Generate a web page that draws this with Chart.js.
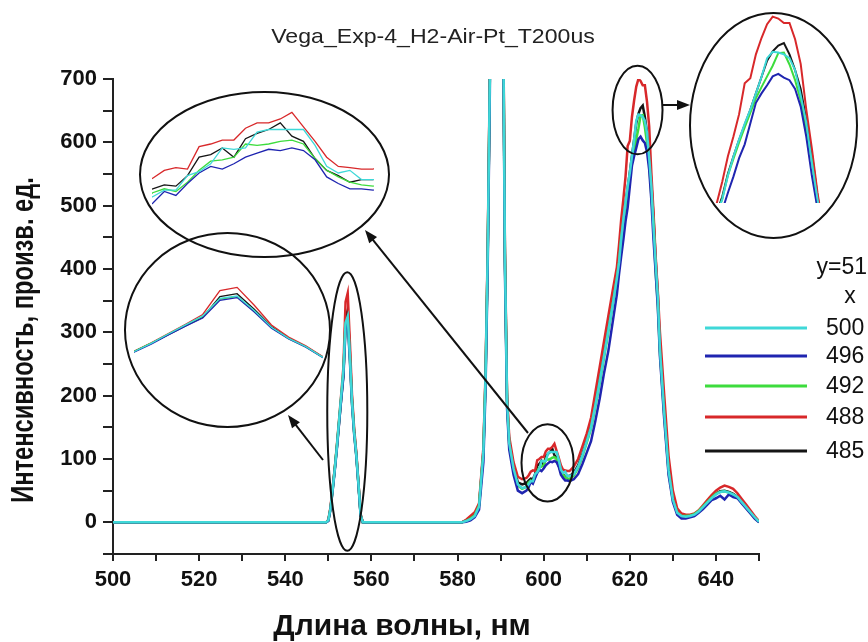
<!DOCTYPE html>
<html>
<head>
<meta charset="utf-8">
<script src="https://cdn.jsdelivr.net/npm/chart.js@4"></script>
<style>
  body { margin: 0; background: #fff; }
  #wrap { position: relative; width: 868px; height: 642px; }
  #wrap canvas { position: absolute; left: 0; top: 0; }
</style>
</head>
<body>
<div id="wrap">
  <canvas id="main" width="868" height="642"></canvas>
</div>
<script>
// wavelength grid (nm), finer where the insets zoom in
const wavelengths = [
  500, 549.5, 550, 550.5, 551, 551.5, 552, 552.5, 553, 553.5, 554, 554.5, 555, 555.5, 556, 556.5, 557, 557.5, 558,
  581, 582, 583, 584, 585, 586, 586.5, 587, 587.5, 588, 589, 590, 590.5, 591, 591.5, 592, 593, 594, 595, 596,
  596.5, 597, 597.5, 598, 598.5, 599, 599.5, 600, 600.5, 601, 601.5, 602, 602.5, 603, 603.5, 604, 604.5, 605, 605.5, 606,
  607, 608, 609, 610, 611, 612, 613, 614, 615, 616,
  617, 617.5, 618, 618.5, 619, 619.5, 620, 620.5, 621, 621.5, 622, 622.5, 623, 623.5, 624, 624.5, 625, 625.5, 626, 626.5,
  627, 628, 629, 630, 631, 632, 633, 634, 635, 636, 637, 638, 639, 640, 641, 642, 643, 644, 645, 646, 647, 648, 649, 650
];

const int500 = [
  0, 0, 3, 22, 52, 84, 120, 161, 200, 239, 315, 325, 262, 190, 142, 106, 60, 12, 0,
  0, 2, 5, 10, 25, 110, 226, 420, 700, 1300, 1900, 1400, 900, 420, 190, 125, 85, 60, 54, 56,
  60, 65, 65, 76, 79, 85, 97, 96, 97, 109, 111, 111, 111, 111, 99, 83, 78, 80, 73, 73,
  76, 88, 106, 128, 150, 185, 222, 262, 302, 342,
  385, 410, 447, 478, 505, 530, 552, 578, 604, 634, 644, 643, 640, 634, 615, 575, 532, 467, 410, 355,
  272, 172, 82, 36, 15, 10, 9, 10, 12, 17, 24, 31, 38, 44, 48, 49, 47, 44, 40, 32, 24, 16, 8, 1
];
const int496 = [
  0, 0, 2, 20, 50, 82, 117, 157, 195, 230, 306, 318, 256, 186, 139, 104, 58, 10, 0,
  0, 1, 3, 8, 20, 95, 210, 400, 680, 1250, 1850, 1350, 880, 400, 180, 115, 75, 50, 46, 50,
  55, 64, 61, 70, 78, 83, 81, 85, 90, 93, 96, 95, 97, 95, 88, 75, 70, 66, 66, 65,
  68, 76, 92, 110, 128, 160, 195, 235, 270, 315,
  360, 392, 420, 446, 475, 497, 530, 563, 578, 591, 605, 609, 603, 599, 585, 557, 509, 447, 395, 340,
  262, 162, 75, 32, 12, 6, 6, 8, 10, 15, 21, 28, 35, 38, 42, 36, 44, 40, 38, 30, 22, 14, 6, 0
];
const int492 = [
  0, 0, 3, 21, 51, 85, 121, 160, 199, 236, 312, 322, 260, 189, 141, 105, 59, 11, 0,
  0, 2, 6, 11, 26, 108, 222, 415, 695, 1280, 1880, 1380, 890, 415, 188, 122, 82, 58, 53, 56,
  63, 66, 64, 71, 80, 87, 88, 90, 100, 99, 100, 102, 103, 100, 89, 80, 75, 71, 69, 68,
  74, 86, 104, 126, 148, 183, 220, 260, 300, 342,
  385, 410, 448, 474, 500, 524, 547, 570, 588, 605, 622, 642, 643, 624, 599, 567, 516, 470, 395, 345,
  268, 168, 80, 35, 15, 10, 10, 11, 13, 18, 25, 32, 39, 45, 48, 49, 47, 44, 39, 31, 23, 15, 7, 1
];
const int488 = [
  0, 0, 4, 24, 55, 86, 123, 163, 203, 245, 348, 362, 285, 200, 148, 110, 62, 13, 0,
  0, 4, 10, 16, 30, 118, 235, 430, 710, 1320, 1920, 1420, 920, 435, 200, 135, 95, 72, 68, 70,
  74, 80, 82, 81, 98, 100, 103, 103, 112, 116, 116, 119, 124, 113, 102, 90, 83, 82, 81, 81,
  88, 100, 120, 140, 165, 205, 245, 285, 325, 365,
  403, 438, 478, 510, 545, 594, 602, 640, 666, 688, 700, 697, 690, 690, 664, 625, 552, 490, 420, 365,
  300, 200, 105, 50, 22, 14, 12, 12, 14, 19, 27, 35, 43, 50, 55, 58, 56, 53, 46, 37, 28, 19, 10, 2
];
const int485 = [
  0, 0, 3, 22, 53, 85, 120, 158, 196, 233, 322, 335, 268, 193, 143, 107, 61, 12, 0,
  0, 3, 7, 12, 27, 112, 228, 422, 702, 1300, 1900, 1400, 905, 425, 194, 128, 88, 63, 60, 62,
  66, 69, 68, 76, 90, 92, 97, 90, 104, 108, 111, 116, 106, 102, 89, 80, 76, 71, 73, 73,
  78, 90, 108, 130, 152, 188, 225, 265, 305, 345,
  388, 414, 450, 478, 504, 528, 552, 578, 604, 630, 645, 654, 658, 640, 615, 585, 536, 482, 415, 360,
  275, 175, 85, 38, 16, 10, 9, 10, 12, 17, 24, 31, 39, 45, 49, 50, 48, 45, 40, 32, 24, 16, 8, 1
];

const seriesLabels = ['500', '496', '492', '488', '485'];
const seriesValues = [int500, int496, int492, int488, int485];
const seriesColors = ['#3fd8d8', '#1f25b0', '#3ddc3d', '#d8282a', '#151515'];

const xTicks = [500, 520, 540, 560, 580, 600, 620, 640];
const yTicks = [0, 100, 200, 300, 400, 500, 600, 700];

const FONT = '"Liberation Sans", Arial, sans-serif';

function makeDatasets(width) {
  return seriesValues.map((vals, i) => ({
    label: seriesLabels[i],
    data: wavelengths.map((w, j) => ({ x: w, y: vals[j] })),
    borderColor: seriesColors[i],
    borderWidth: width,
    pointRadius: 0,
    tension: 0,
    fill: false
  }));
}

// small ellipses round the data, in data units: [wl, value, half-width nm, half-height]
const markRings = [
  [554.4, 175, 4.65, 220],
  [600.9, 94, 6.05, 61],
  [621.8, 651, 5.8, 70]
];
// big ellipses holding the zoomed views, in pixels: [cx, cy, rx, ry]
const zoomRings = [
  [264.5, 174.5, 124.5, 82.5],
  [227.5, 330, 102.5, 97],
  [773.5, 125.5, 83.5, 112.5]
];
const arrows = [
  [662, 105, 690, 105],
  [528, 433, 365, 230],
  [323, 460, 288, 415]
];

function drawArrow(ctx, x1, y1, x2, y2) {
  const a = Math.atan2(y2 - y1, x2 - x1);
  const len = 13, hw = 5;
  ctx.beginPath();
  ctx.moveTo(x1, y1);
  ctx.lineTo(x2 - Math.cos(a) * len * 0.8, y2 - Math.sin(a) * len * 0.8);
  ctx.stroke();
  ctx.beginPath();
  ctx.moveTo(x2, y2);
  ctx.lineTo(x2 - Math.cos(a) * len - Math.sin(a) * hw, y2 - Math.sin(a) * len + Math.cos(a) * hw);
  ctx.lineTo(x2 - Math.cos(a) * len + Math.sin(a) * hw, y2 - Math.sin(a) * len - Math.cos(a) * hw);
  ctx.closePath();
  ctx.fill();
}

const decorPlugin = {
  id: 'decor',
  afterDraw(chart) {
    const ctx = chart.ctx;
    const xs = chart.scales.x, ys = chart.scales.y;
    ctx.save();
    ctx.strokeStyle = '#111';
    ctx.fillStyle = '#111';
    ctx.lineWidth = 2;

    markRings.forEach(([w, v, dw, dv]) => {
      const cx = xs.getPixelForValue(w), cy = ys.getPixelForValue(v);
      const rx = xs.getPixelForValue(w + dw) - cx, ry = cy - ys.getPixelForValue(v + dv);
      ctx.beginPath();
      ctx.ellipse(cx, cy, rx, ry, 0, 0, Math.PI * 2);
      ctx.stroke();
    });
    zoomRings.forEach(([cx, cy, rx, ry]) => {
      ctx.beginPath();
      ctx.ellipse(cx, cy, rx, ry, 0, 0, Math.PI * 2);
      ctx.stroke();
    });
    arrows.forEach(a => drawArrow(ctx, a[0], a[1], a[2], a[3]));

    // title
    ctx.save();
    ctx.translate(433, 43);
    ctx.scale(1.1, 1);
    ctx.font = '21px ' + FONT;
    ctx.textAlign = 'center';
    ctx.textBaseline = 'alphabetic';
    ctx.fillStyle = '#222';
    ctx.fillText('Vega_Exp-4_H2-Air-Pt_T200us', 0, 0);
    ctx.restore();

    // axis titles
    ctx.save();
    ctx.translate(33, 340);
    ctx.rotate(-Math.PI / 2);
    ctx.scale(0.74, 1);
    ctx.font = 'bold 32px ' + FONT;
    ctx.textAlign = 'center';
    ctx.textBaseline = 'alphabetic';
    ctx.fillText('Интенсивность, произв. ед.', 0, 0);
    ctx.restore();

    ctx.font = 'bold 30px ' + FONT;
    ctx.textAlign = 'center';
    ctx.textBaseline = 'alphabetic';
    ctx.fillText('Длина волны, нм', 402, 635);

    // legend
    ctx.font = '23px ' + FONT;
    ctx.textBaseline = 'middle';
    ctx.fillStyle = '#111';
    ctx.textAlign = 'right';
    ctx.fillText('y=51', 867, 268);
    ctx.textAlign = 'center';
    ctx.fillText('x', 850, 297);
    const rows = [328, 356, 386, 417, 451];
    chart.data.datasets.forEach((ds, i) => {
      ctx.strokeStyle = ds.borderColor;
      ctx.lineWidth = 3;
      ctx.beginPath();
      ctx.moveTo(705, rows[i]);
      ctx.lineTo(807, rows[i]);
      ctx.stroke();
      ctx.fillStyle = '#111';
      ctx.textAlign = 'left';
      ctx.fillText(ds.label, 826, rows[i] + 1);
    });
    ctx.restore();
  }
};

const tickFont = { family: FONT, size: 22, weight: 'bold' };

new Chart(document.getElementById('main'), {
  type: 'line',
  data: { datasets: makeDatasets(2.5) },
  options: {
    responsive: false,
    animation: false,
    devicePixelRatio: 1,
    events: [],
    layout: { padding: { top: 79, right: 109, left: 0, bottom: 0 } },
    plugins: { legend: { display: false }, tooltip: { enabled: false } },
    scales: {
      x: {
        type: 'linear', min: 500, max: 650,
        afterFit: (s) => { s.height = 88; },
        ticks: {
          stepSize: 10, autoSkip: false, maxRotation: 0, padding: 6,
          font: tickFont, color: '#111',
          callback: (v) => xTicks.includes(v) ? String(v) : ''
        },
        grid: { drawOnChartArea: false, drawTicks: true, tickLength: 7, color: '#222', lineWidth: 2 },
        border: { color: '#222', width: 2 }
      },
      y: {
        min: -50, max: 700,
        afterFit: (s) => { s.width = 113; },
        ticks: {
          stepSize: 50, autoSkip: false, padding: 6,
          font: tickFont, color: '#111',
          callback: (v) => yTicks.includes(v) ? String(v) : ''
        },
        grid: { drawOnChartArea: false, drawTicks: true, tickLength: 10, color: '#222', lineWidth: 2 },
        border: { color: '#222', width: 2 }
      }
    }
  },
  plugins: [decorPlugin]
});

// zoomed views: same data, own scale windows
const insets = [
  { left: 152, top: 95, w: 222, h: 115, xMin: 596.47, xMax: 606.04, yMin: 49.9, yMax: 137.2, lw: 1.3 },
  { left: 134, top: 278, w: 189, h: 85, xMin: 551.5, xMax: 557, yMin: 35.5, yMax: 402.7, lw: 1.3 },
  { left: 712, top: 12, w: 114, h: 191, xMin: 616.58, xMax: 626.76, yMin: 403.7, yMax: 707.4, lw: 2 }
];

insets.forEach((ins) => {
  const c = document.createElement('canvas');
  c.width = ins.w;
  c.height = ins.h;
  c.style.left = ins.left + 'px';
  c.style.top = ins.top + 'px';
  document.getElementById('wrap').appendChild(c);
  new Chart(c, {
    type: 'line',
    data: { datasets: makeDatasets(ins.lw) },
    options: {
      responsive: false,
      animation: false,
      devicePixelRatio: 1,
      events: [],
      layout: { padding: 0 },
      plugins: { legend: { display: false }, tooltip: { enabled: false } },
      scales: {
        x: { type: 'linear', display: false, min: ins.xMin, max: ins.xMax },
        y: { display: false, min: ins.yMin, max: ins.yMax }
      }
    }
  });
});
</script>
</body>
</html>
